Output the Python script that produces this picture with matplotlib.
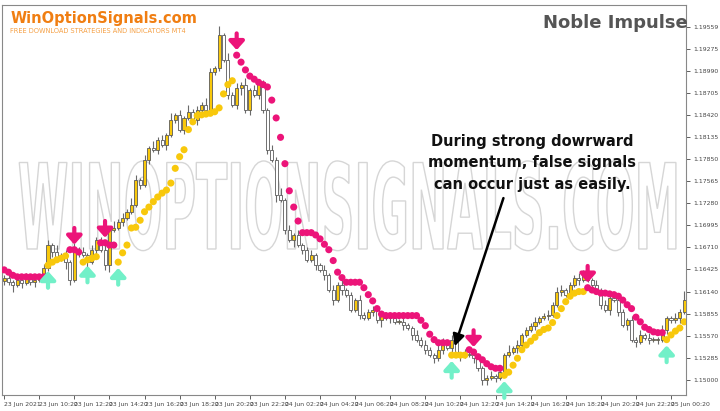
import numpy as np
import matplotlib.pyplot as plt
from matplotlib.textpath import TextPath
from matplotlib.patches import PathPatch
from matplotlib.font_manager import FontProperties
from matplotlib.transforms import Affine2D

# close prices as pips above 1.15000 (15-minute candles)
close_pips = [
    132, 126, 123, 129, 125, 132, 126, 129, 130, 144,
    174, 165, 157, 161, 152, 129, 168, 165, 161, 152,
    168, 181, 168, 148, 194, 196, 204, 209, 217, 226,
    258, 252, 284, 299, 297, 310, 303, 316, 335, 342,
    323, 338, 346, 335, 348, 355, 348, 397, 402, 445,
    413, 368, 355, 377, 381, 348, 374, 368, 384, 348,
    297, 284, 239, 232, 194, 181, 187, 174, 168, 155,
    161, 148, 142, 135, 116, 103, 123, 116, 110, 90,
    103, 84, 80, 88, 90, 77, 84, 80, 80, 75,
    75, 71, 67, 58, 52, 45, 39, 32, 28, 39,
    45, 41, 52, 32, 31, 34, 32, 28, 15, 0,
    3, 5, 3, 10, 32, 36, 41, 45, 58, 65,
    70, 75, 80, 83, 84, 97, 114, 116, 110, 123,
    132, 129, 139, 129, 123, 116, 97, 90, 106, 103,
    88, 71, 77, 52, 49, 58, 54, 52, 52, 52,
    65, 80, 77, 80, 88, 103,
]
first_open_pips = 128
# wick lengths, one digit per candle, in units of 3 pips
upper_wick = ("1210121102" "2131213121" "2112131213" "2121312131"
              "2131213214" "1312131211" "1213121211" "2112121211"
              "1211211121" "1211212112" "3121121211" "1212131211"
              "1211212211" "1212121211" "2112121211" "211214")
lower_wick = ("2131211211" "1211321213" "1212311211" "1212121211"
              "1211211211" "1212312121" "2131213121" "1212121211"
              "1211213121" "1212112121" "2121211212" "2121211211"
              "1211211211" "1211212121" "2121211212" "121121")

dot_pips = [
    142, 139, 135, 133, 133, 133, 133, 133, 133, 133,
    148, 152, 155, 157, 160, 168, 168, 165, 152, 155,
    157, 159, 177, 177, 174, 174,
    152, 164, 174, 196, 197, 206, 217, 223, 230, 236,
    241, 245, 254, 273, 288, 297, 323, 333, 341, 342,
    343, 344, 346, 351, 369, 381, 386,
    419, 410, 400, 392, 388, 384, 381, 378, 361, 338, 313, 279, 244,
    223, 205, 190, 190, 190, 187, 182, 175, 168, 154,
    139, 132, 126, 126, 126, 126, 119, 110, 102, 92,
    85, 83, 83, 83, 83, 83, 83, 83, 83, 77,
    70, 59, 52, 48, 48, 48,
    32, 32, 32, 32,
    39, 36, 30, 26, 21, 17, 15, 15,
    6, 10, 19, 28, 39, 45, 50, 55, 61, 65, 67, 74, 83, 92, 101, 108, 112, 114, 114,
    119, 116, 114, 112, 112, 111, 110, 108, 103, 97, 92, 81, 75, 68, 65, 62, 61, 61,
    52, 58, 63, 67, 75,
]
dot_side = ("P" * 10 + "Y" * 5 + "P" * 3 + "Y" * 4 + "P" * 4 + "Y" * 27 + "P" * 13
            + "P" * 36 + "Y" * 4 + "P" * 8 + "Y" * 19 + "P" * 18 + "Y" * 5)

up_arrows = [10, 19, 26, 102, 114, 151]
down_arrows = [16, 23, 53, 107, 133]

price_ticks = [1.15000, 1.15285, 1.15570, 1.15855, 1.16140, 1.16425, 1.16710,
               1.16995, 1.17280, 1.17565, 1.17850, 1.18135, 1.18420, 1.18705,
               1.18990, 1.19275, 1.19559]
time_labels = ["23 Jun 2021", "23 Jun 10:20", "23 Jun 12:20", "23 Jun 14:20",
               "23 Jun 16:20", "23 Jun 18:20", "23 Jun 20:20", "23 Jun 22:20",
               "24 Jun 02:20", "24 Jun 04:20", "24 Jun 06:20", "24 Jun 08:20",
               "24 Jun 10:20", "24 Jun 12:20", "24 Jun 14:20", "24 Jun 16:20",
               "24 Jun 18:20", "24 Jun 20:20", "24 Jun 22:20", "25 Jun 00:20"]

PINK = "#ec1479"
YELLOW = "#f8c80c"
TEAL = "#72f0c8"

closes = 1.15 + np.array(close_pips) / 1e4
opens = np.concatenate([[1.15 + first_open_pips / 1e4], closes[:-1]])
highs = np.maximum(opens, closes) + np.array([int(c) for c in upper_wick]) * 3e-4
lows = np.minimum(opens, closes) - np.array([int(c) for c in lower_wick]) * 3e-4
dots = 1.15 + np.array(dot_pips) / 1e4
idx = np.arange(len(closes))

fig = plt.figure(figsize=(7.2, 4.11), dpi=100)
ax = fig.add_axes([0.003, 0.039, 0.950, 0.949])

# watermark: tall, condensed outlined letters
tp = TextPath((0, 0), "WINOPTIONSIGNALS.COM", size=1,
              prop=FontProperties(family="DejaVu Sans", weight="bold"))
ext = tp.get_extents()
tr = (Affine2D().translate(-ext.x0, -ext.y0)
      .scale(0.96 / ext.width, 0.23 / ext.height).translate(0.025, 0.37))
ax.add_patch(PathPatch(tr.transform_path(tp), transform=ax.transAxes, facecolor="white",
                       edgecolor="#d6d6d6", lw=1.0, zorder=0.5))

for i in idx:
    up = closes[i] >= opens[i]
    ax.vlines(i, lows[i], highs[i], color="#6a6a6a", lw=0.8, zorder=2)
    bottom = min(opens[i], closes[i])
    h = max(abs(closes[i] - opens[i]), 0.00004)
    ax.bar(i, h, bottom=bottom, width=0.7, color=YELLOW if up else "white",
           edgecolor="#5a5a5a", linewidth=0.6, zorder=3)

cols = [PINK if s == "P" else YELLOW for s in dot_side]
ax.scatter(idx, dots, s=26, c=cols, zorder=4, linewidths=0)

for i in up_arrows:
    ax.annotate("", xy=(i, dots[i] - 0.0004), xytext=(0, -16), textcoords="offset points",
                arrowprops=dict(arrowstyle="-|>,head_width=0.45,head_length=0.5",
                                lw=3, color=TEAL), zorder=5)
for i in down_arrows:
    ax.annotate("", xy=(i, dots[i] + 0.0003), xytext=(0, 16), textcoords="offset points",
                arrowprops=dict(arrowstyle="-|>,head_width=0.45,head_length=0.5",
                                lw=3, color=PINK), zorder=5)

ax.set_xlim(-0.45, 155.45)
ax.set_ylim(1.15 - 19.4e-4, 1.15 + 483.8e-4)
ax.yaxis.tick_right()
ax.set_yticks(price_ticks)
ax.set_yticklabels([f"{p:.5f}" for p in price_ticks])
ax.set_xticks(np.arange(len(time_labels)) * 8)
ax.set_xticklabels(time_labels, ha="left")
ax.tick_params(labelsize=4.4, colors="#444444", length=3, width=0.6, pad=2)
for s in ax.spines.values():
    s.set_color("#888888")
    s.set_linewidth(0.8)

fig.text(0.014, 0.955, "WinOptionSignals.com", color="#f07e12", fontsize=10.5,
         fontweight="bold", ha="left", va="center")
fig.text(0.014, 0.925, "FREE DOWNLOAD STRATEGIES AND INDICATORS MT4", color="#f5a045",
         fontsize=4.8, ha="left", va="center")
fig.text(0.855, 0.945, "Noble Impulse", color="#555555", fontsize=13, fontweight="bold",
         ha="center", va="center")

ax.text(0.775, 0.595, "During strong dowrward\nmomentum, false signals\ncan occur just as easily.",
        transform=ax.transAxes, ha="center", va="center", fontsize=10.5, fontweight="bold",
        linespacing=1.55, color="#111111", zorder=6)
ax.annotate("", xy=(102.5, 1.1540), xytext=(114, 1.1738),
            arrowprops=dict(arrowstyle="-|>,head_width=0.35,head_length=0.7", lw=1.8,
                            color="black"), zorder=6)

fig.savefig("out.png", dpi=100)
